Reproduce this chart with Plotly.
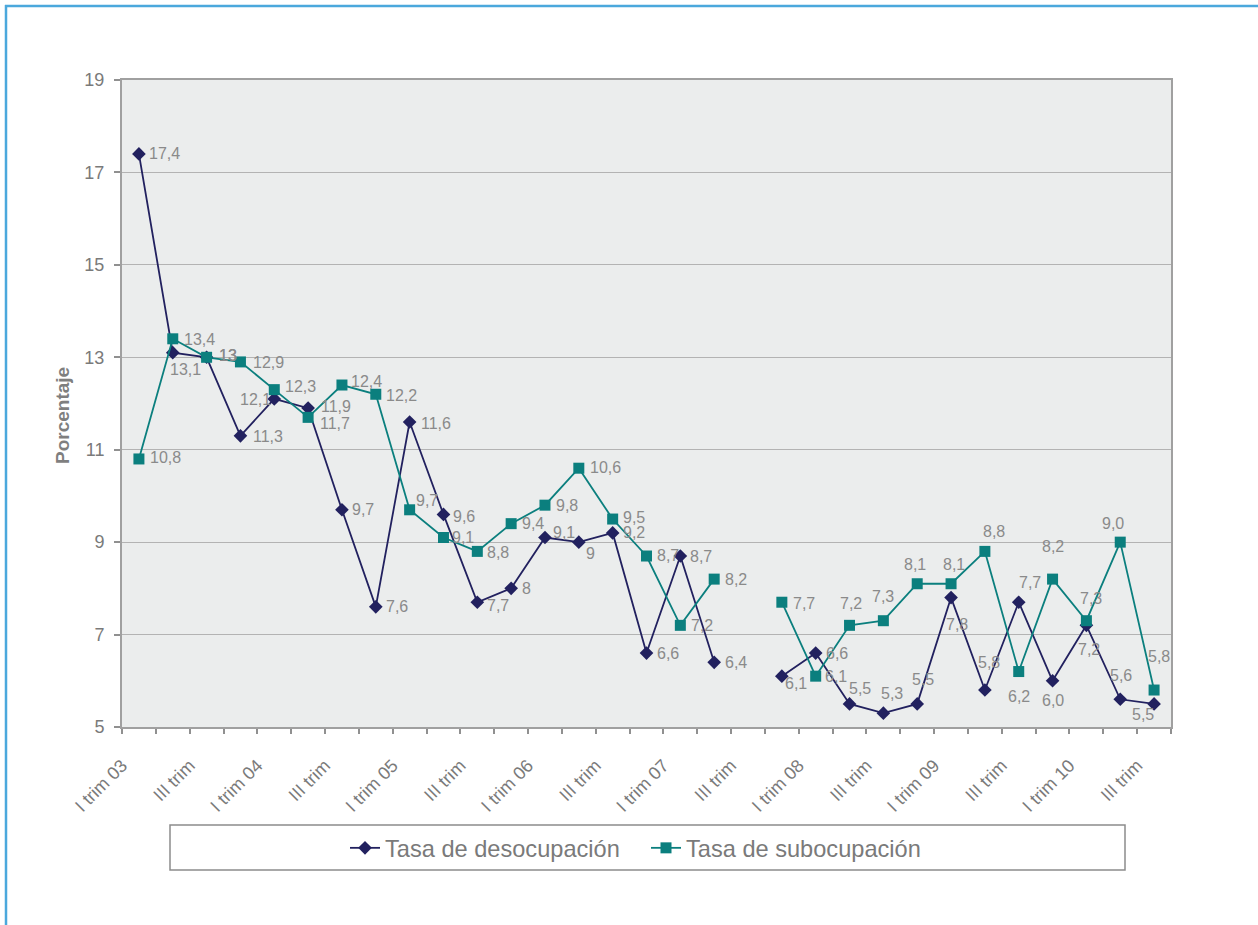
import plotly.graph_objects as go

# ---------------- data ----------------
quarters = ["I trim 03", "II trim 03", "III trim 03", "IV trim 03",
            "I trim 04", "II trim 04", "III trim 04", "IV trim 04",
            "I trim 05", "II trim 05", "III trim 05", "IV trim 05",
            "I trim 06", "II trim 06", "III trim 06", "IV trim 06",
            "I trim 07", "II trim 07", "III trim 07", "IV trim 07",
            "I trim 08", "II trim 08", "III trim 08", "IV trim 08",
            "I trim 09", "II trim 09", "III trim 09", "IV trim 09",
            "I trim 10", "II trim 10", "III trim 10"]

tick_labels = ["I trim 03", "III trim", "I trim 04", "III trim", "I trim 05", "III trim",
               "I trim 06", "III trim", "I trim 07", "III trim", "I trim 08", "III trim",
               "I trim 09", "III trim", "I trim 10", "III trim"]

desocupacion = [17.4, 13.1, 13.0, 11.3, 12.1, 11.9, 9.7, 7.6, 11.6, 9.6, 7.7, 8.0,
                9.1, 9.0, 9.2, 6.6, 8.7, 6.4, None, 6.1, 6.6, 5.5, 5.3, 5.5,
                7.8, 5.8, 7.7, 6.0, 7.2, 5.6, 5.5]

subocupacion = [10.8, 13.4, 13.0, 12.9, 12.3, 11.7, 12.4, 12.2, 9.7, 9.1, 8.8, 9.4,
                9.8, 10.6, 9.5, 8.7, 7.2, 8.2, None, 7.7, 6.1, 7.2, 7.3, 8.1,
                8.1, 8.8, 6.2, 8.2, 7.3, 9.0, 5.8]

# first segment labelled in "general" format, second segment with one decimal
general_format_until = 18

# ---------------- label offsets (style, pixels: dx right, dy down) ----------------
desoc_offsets = [(26, 0), (13, 17), (21, -2), (28, 1), (-19, 1), (28, -2), (21, 0), (21, 0),
                 (26, 2), (21, 2), (21, 3), (15, 0), (19, -5), (12, 11), (21, 0), (21, 0),
                 (21, 0), (22, 0), None, (14, 7), (21, 0), (10, -15), (9, -20), (6, -24),
                 (6, 27), (4, -28), (11, -20), (0, 20), (3, 24), (1, -24), (-11, 11)]
subocup_offsets = [(27, -1), (27, 1), (21, -2), (28, 1), (26, -3), (27, 6), (25, -4), (26, 1),
                   (17, -9), (20, 0), (21, 1), (22, 0), (22, 0), (27, -1), (21, -2), (21, -1),
                   (22, 0), (22, 0), None, (22, 1), (20, 0), (1, -22), (0, -24), (-2, -19),
                   (3, -19), (9, -20), (0, 25), (0, -33), (5, -22), (-7, -19), (5, -34)]

FONT = "Liberation Sans, Arial, Helvetica, sans-serif"
C_DES = "#22215F"
C_SUB = "#0B7F7E"
LBL = "#8A8A8A"
TXT = "#7A7A7A"

x_idx = list(range(len(quarters)))


def fmt(v, i):
    if i < general_format_until:
        s = ("%g" % v)
    else:
        s = "%.1f" % v
    return s.replace(".", ",")


fig = go.Figure()
fig.add_trace(go.Scatter(
    x=x_idx, y=desocupacion, mode="lines+markers", name="Tasa de desocupación",
    line=dict(color=C_DES, width=1.8), connectgaps=False,
    marker=dict(symbol="diamond", size=10.5, color=C_DES),
    hovertext=quarters, hoverinfo="text+y"))
fig.add_trace(go.Scatter(
    x=x_idx, y=subocupacion, mode="lines+markers", name="Tasa de subocupación",
    line=dict(color=C_SUB, width=1.8), connectgaps=False,
    marker=dict(symbol="square", size=11, color=C_SUB),
    hovertext=quarters, hoverinfo="text+y"))

annotations = []
for series, offs in ((desocupacion, desoc_offsets), (subocupacion, subocup_offsets)):
    for i, v in enumerate(series):
        if v is None:
            continue
        dx, dy = offs[i]
        annotations.append(dict(
            x=i, y=v, xref="x", yref="y", text=fmt(v, i), showarrow=False,
            xanchor="center", yanchor="middle", xshift=dx, yshift=-dy,
            font=dict(family=FONT, size=16, color=LBL)))

# layout geometry
L, R, T, B = 122, 87, 80, 198
W, H = 1258, 925
pw, ph = W - L - R, H - T - B


def px(xp):
    return (xp - L) / pw


def py(yp):
    return (H - B - yp) / ph


annotations.append(dict(
    x=px(62), y=py(415), xref="paper", yref="paper", text="<b>Porcentaje</b>",
    showarrow=False, textangle=-90, xanchor="center", yanchor="middle",
    font=dict(family=FONT, size=19, color="#7F7F7F")))

shapes = [
    # legend box
    dict(type="rect", xref="paper", yref="paper", x0=px(170), x1=px(1125),
         y0=py(870), y1=py(825), line=dict(color="#8C8C8C", width=1.5), fillcolor="rgba(0,0,0,0)"),
    # outer frame (top and left)
    dict(type="line", xref="paper", yref="paper", x0=px(5), x1=px(1262),
         y0=py(6), y1=py(6), line=dict(color="#4BA8DC", width=2.5)),
    dict(type="line", xref="paper", yref="paper", x0=px(6), x1=px(6),
         y0=py(5), y1=py(935), line=dict(color="#4BA8DC", width=2.5)),
]

fig.update_layout(
    width=W, height=H, autosize=False,
    margin=dict(l=L, r=R, t=T, b=B, pad=0),
    paper_bgcolor="white", plot_bgcolor="#EBEDED",
    font=dict(family=FONT, color=TXT),
    showlegend=True,
    legend=dict(orientation="h", x=px(345), xanchor="left", y=py(848), yanchor="middle",
                entrywidth=256,
                font=dict(family=FONT, size=23.6, color="#7A7A7A"),
                bgcolor="rgba(0,0,0,0)", borderwidth=0),
    annotations=annotations, shapes=shapes,
    xaxis=dict(
        range=[-0.5, len(quarters) - 0.5], showgrid=False, zeroline=False,
        tickmode="array", tickvals=[-0.5 + 2 * k for k in range(len(tick_labels))],
        ticktext=tick_labels, tickangle=-45, ticks="outside", ticklen=5,
        tickcolor="#909090", tickwidth=1.5, ticklabelstandoff=14,
        tickfont=dict(family=FONT, size=18, color=TXT),
        minor=dict(tickmode="linear", tick0=-0.5, dtick=1, ticks="outside", ticklen=5,
                   tickcolor="#909090", tickwidth=1.5, showgrid=False),
        showline=True, linecolor="#A0A0A0", linewidth=2, mirror=True),
    yaxis=dict(
        range=[5, 19], tickmode="linear", tick0=5, dtick=2, showgrid=True,
        gridcolor="#B3B3B3", gridwidth=1.3, zeroline=False,
        ticks="outside", ticklen=6, tickcolor="#909090", tickwidth=1.5,
        ticklabelstandoff=6,
        tickfont=dict(family=FONT, size=18, color=TXT),
        showline=True, linecolor="#A0A0A0", linewidth=2, mirror=True),
)

fig.write_html("out.html", config={"displayModeBar": False},
               post_script="document.body.style.margin='0';document.body.style.overflow='hidden';")
